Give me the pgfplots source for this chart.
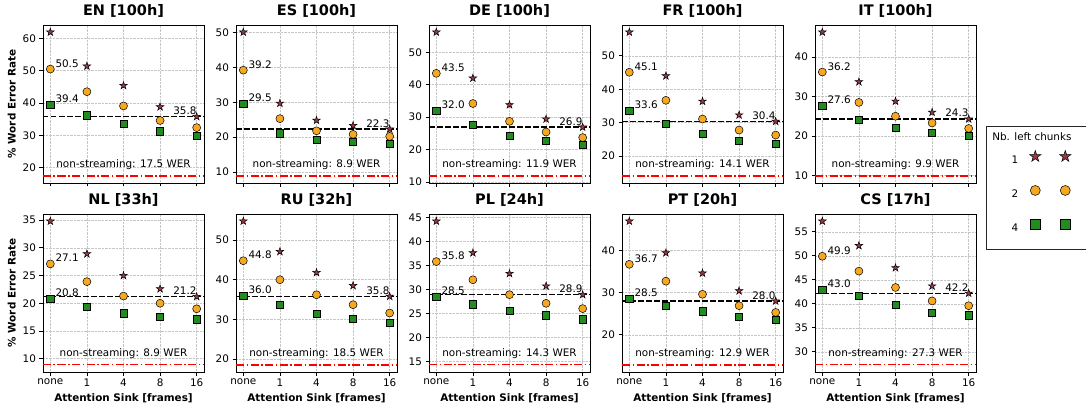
\documentclass[border=0pt]{standalone}
\usepackage{fontspec}
\setmainfont{DejaVu Sans}
\usepackage{pgfplots}
\pgfplotsset{compat=1.18}
\usepgfplotslibrary{groupplots}

\definecolor{cstar}{HTML}{9A3A45}
\definecolor{ccirc}{HTML}{F6A821}
\definecolor{csq}{HTML}{228B22}

% filled five-pointed star
\pgfdeclareplotmark{fstar}{%
  \pgfpathmoveto{\pgfpointpolar{90}{\pgfplotmarksize}}%
  \pgfpathlineto{\pgfpointpolar{126}{0.382\pgfplotmarksize}}%
  \pgfpathlineto{\pgfpointpolar{162}{\pgfplotmarksize}}%
  \pgfpathlineto{\pgfpointpolar{198}{0.382\pgfplotmarksize}}%
  \pgfpathlineto{\pgfpointpolar{234}{\pgfplotmarksize}}%
  \pgfpathlineto{\pgfpointpolar{270}{0.382\pgfplotmarksize}}%
  \pgfpathlineto{\pgfpointpolar{306}{\pgfplotmarksize}}%
  \pgfpathlineto{\pgfpointpolar{342}{0.382\pgfplotmarksize}}%
  \pgfpathlineto{\pgfpointpolar{18}{\pgfplotmarksize}}%
  \pgfpathlineto{\pgfpointpolar{54}{0.382\pgfplotmarksize}}%
  \pgfpathclose\pgfusepathqfillstroke}

\newcommand{\fnt}{\fontsize{10.4}{12}\selectfont}

% #1 circle@none, #2 square@none, #3 star@16 (dashed), #4 non-streaming
\newcommand{\refs}[4]{%
  \addplot[forget plot, black, line width=1.4pt, dash pattern=on 5.5pt off 2.5pt] coordinates {(-0.2,#3) (4.2,#3)};
  \addplot[forget plot, red, line width=1.4pt, dash pattern=on 8pt off 2.5pt on 1.5pt off 2.5pt] coordinates {(-0.2,#4) (4.2,#4)};
  \node[anchor=base west, inner sep=0pt, xshift=5pt, yshift=2pt] at (axis cs:0,#1) {#1};
  \node[anchor=base west, inner sep=0pt, xshift=5pt, yshift=2pt] at (axis cs:0,#2) {#2};
  \node[anchor=base east, inner sep=0pt, yshift=2pt] at (axis cs:4,#3) {#3};
  \node[yshift=11.5pt] at (axis cs:2,#4) {non-streaming: #4 WER};
}

\pgfplotsset{
  wer/.style={
    scale only axis, width=161pt, height=158pt,
    xmin=-0.2, xmax=4.2, xtick={0,1,2,3,4}, xticklabels={none,1,4,8,16},
    grid=major, grid style={densely dotted, gray!45, line width=0.5pt},
    tick align=outside, tick pos=left, major tick length=3.5pt,
    font=\fnt,
    title style={font=\fontsize{14.5}{17}\selectfont\bfseries, yshift=-2pt},
    label style={font=\fnt\bfseries},
    /pgf/number format/assume math mode=true,
    axis line style={black, line width=0.8pt},
    every tick/.style={black, line width=0.8pt},
  },
  pstar/.style={only marks, mark=fstar, mark size=4pt,
    mark options={fill=cstar, draw=black, line width=0.5pt},
    legend image code/.code={\draw[only marks, mark size=6pt] plot coordinates {(15pt,4pt) (45pt,4pt)};
      \path[draw=none, fill=none] (0pt,-18pt) rectangle (82pt,12pt);}},
  pcirc/.style={only marks, mark=*, mark size=4pt,
    mark options={fill=ccirc, draw=black, line width=0.5pt},
    legend image code/.code={\draw[only marks, mark size=5pt] plot coordinates {(15pt,4pt) (45pt,4pt)};
      \path[draw=none, fill=none] (0pt,-18pt) rectangle (82pt,12pt);}},
  psq/.style={only marks, mark=square*, mark size=3.6pt,
    mark options={fill=csq, draw=black, line width=0.5pt},
    legend image code/.code={\draw[only marks, mark size=5pt] plot coordinates {(15pt,4pt) (45pt,4pt)};
      \path[draw=none, fill=none] (0pt,-21pt) rectangle (82pt,12pt);}},
}

\begin{document}
\begin{tikzpicture}
\begin{groupplot}[
  group style={group size=5 by 2, horizontal sep=32pt, vertical sep=31pt,
    xticklabels at=edge bottom},
  wer]

\nextgroupplot[title={EN [100h]}, ylabel={\% Word Error Rate}, ymin=15.28, ymax=64.12, ytick={20,30,40,50,60}]
\refs{50.5}{39.4}{35.8}{17.5}
\addplot[pstar] coordinates {(0,61.9) (1,51.4) (2,45.4) (3,38.8) (4,35.8)};
\addplot[pcirc] coordinates {(0,50.5) (1,43.5) (2,39.1) (3,34.6) (4,32.4)};
\addplot[psq] coordinates {(0,39.4) (1,36.2) (2,33.7) (3,31.3) (4,30.0)};

\nextgroupplot[title={ES [100h]}, ymin=6.84, ymax=52.16, ytick={10,20,30,40,50}]
\refs{39.2}{29.5}{22.3}{8.9}
\addplot[pstar] coordinates {(0,50.1) (1,29.7) (2,24.8) (3,23.3) (4,22.3)};
\addplot[pcirc] coordinates {(0,39.2) (1,25.3) (2,21.8) (3,20.8) (4,20.2)};
\addplot[psq] coordinates {(0,29.5) (1,21.1) (2,19.2) (3,18.6) (4,18.2)};

\nextgroupplot[title={DE [100h]}, ymin=9.69, ymax=58.4, ytick={10,20,30,40,50}]
\refs{43.5}{32.0}{26.9}{11.9}
\addplot[pstar] coordinates {(0,56.2) (1,42.0) (2,33.8) (3,29.4) (4,26.9)};
\addplot[pcirc] coordinates {(0,43.5) (1,34.2) (2,28.7) (3,25.4) (4,23.7)};
\addplot[psq] coordinates {(0,32.0) (1,27.6) (2,24.3) (3,22.6) (4,21.4)};

\nextgroupplot[title={FR [100h]}, ymin=11.95, ymax=59.25, ytick={20,30,40,50}]
\refs{45.1}{33.6}{30.4}{14.1}
\addplot[pstar] coordinates {(0,57.1) (1,44.0) (2,36.4) (3,32.3) (4,30.4)};
\addplot[pcirc] coordinates {(0,45.1) (1,36.7) (2,31.1) (3,27.8) (4,26.3)};
\addplot[psq] coordinates {(0,33.6) (1,29.8) (2,26.6) (3,24.6) (4,23.6)};

\nextgroupplot[title={IT [100h]}, ymin=8.08, ymax=48.12, ytick={10,20,30,40},
  legend plot pos=right, legend cell align=left,
  legend style={at={(1.062,0.363)}, anchor=north west, draw=black!85, line width=0.6pt,
    row sep=4pt, inner xsep=4pt, inner ysep=0pt, font=\fnt}]
\addlegendimage{empty legend}
\refs{36.2}{27.6}{24.3}{9.9}
\addplot[pstar] coordinates {(0,46.3) (1,33.7) (2,28.8) (3,26.0) (4,24.3)};
\addplot[pcirc] coordinates {(0,36.2) (1,28.5) (2,25.0) (3,23.3) (4,21.9)};
\addplot[psq] coordinates {(0,27.6) (1,24.1) (2,22.0) (3,20.9) (4,20.1)};
\legend{\makebox[26pt][l]{\rule{0pt}{13pt}Nb. left chunks}, \makebox[26pt][r]{1}, \makebox[26pt][r]{2}, \makebox[26pt][r]{4}}

\nextgroupplot[title={NL [33h]}, ylabel={\% Word Error Rate}, xlabel={Attention Sink [frames]}, ymin=7.6, ymax=36.1, ytick={10,15,20,25,30,35}]
\refs{27.1}{20.8}{21.2}{8.9}
\addplot[pstar] coordinates {(0,34.8) (1,28.9) (2,25.0) (3,22.6) (4,21.2)};
\addplot[pcirc] coordinates {(0,27.1) (1,23.9) (2,21.3) (3,20.0) (4,19.0)};
\addplot[psq] coordinates {(0,20.8) (1,19.4) (2,18.2) (3,17.6) (4,17.1)};

\nextgroupplot[title={RU [32h]}, xlabel={Attention Sink [frames]}, ymin=16.7, ymax=56.6, ytick={20,30,40,50}]
\refs{44.8}{36.0}{35.8}{18.5}
\addplot[pstar] coordinates {(0,54.8) (1,47.1) (2,41.8) (3,38.5) (4,35.8)};
\addplot[pcirc] coordinates {(0,44.8) (1,40.0) (2,36.2) (3,33.7) (4,31.6)};
\addplot[psq] coordinates {(0,36.0) (1,33.7) (2,31.5) (3,30.2) (4,29.1)};

\nextgroupplot[title={PL [24h]}, xlabel={Attention Sink [frames]}, ymin=12.8, ymax=45.7, ytick={15,20,25,30,35,40,45}]
\refs{35.8}{28.5}{28.9}{14.3}
\addplot[pstar] coordinates {(0,44.2) (1,37.6) (2,33.3) (3,30.7) (4,28.9)};
\addplot[pcirc] coordinates {(0,35.8) (1,32.0) (2,28.9) (3,27.1) (4,26.0)};
\addplot[psq] coordinates {(0,28.5) (1,26.9) (2,25.6) (3,24.6) (4,23.8)};

\nextgroupplot[title={PT [20h]}, xlabel={Attention Sink [frames]}, ymin=11.2, ymax=48.6, ytick={20,30,40}]
\refs{36.7}{28.5}{28.0}{12.9}
\addplot[pstar] coordinates {(0,46.9) (1,39.4) (2,34.6) (3,30.4) (4,28.0)};
\addplot[pcirc] coordinates {(0,36.7) (1,32.7) (2,29.6) (3,26.9) (4,25.3)};
\addplot[psq] coordinates {(0,28.5) (1,26.9) (2,25.6) (3,24.3) (4,23.5)};

\nextgroupplot[title={CS [17h]}, xlabel={Attention Sink [frames]}, ymin=25.8, ymax=58.7, ytick={30,35,40,45,50,55}]
\refs{49.9}{43.0}{42.2}{27.3}
\addplot[pstar] coordinates {(0,57.2) (1,52.1) (2,47.5) (3,43.7) (4,42.2)};
\addplot[pcirc] coordinates {(0,49.9) (1,46.8) (2,43.4) (3,40.6) (4,39.6)};
\addplot[psq] coordinates {(0,43.0) (1,41.7) (2,39.8) (3,38.2) (4,37.6)};
\end{groupplot}
\pgfresetboundingbox
\path ([shift={(-43pt,25pt)}]group c1r1.north west) rectangle ([shift={(1043pt,-382pt)}]group c1r1.north west);
\end{tikzpicture}
\end{document}
